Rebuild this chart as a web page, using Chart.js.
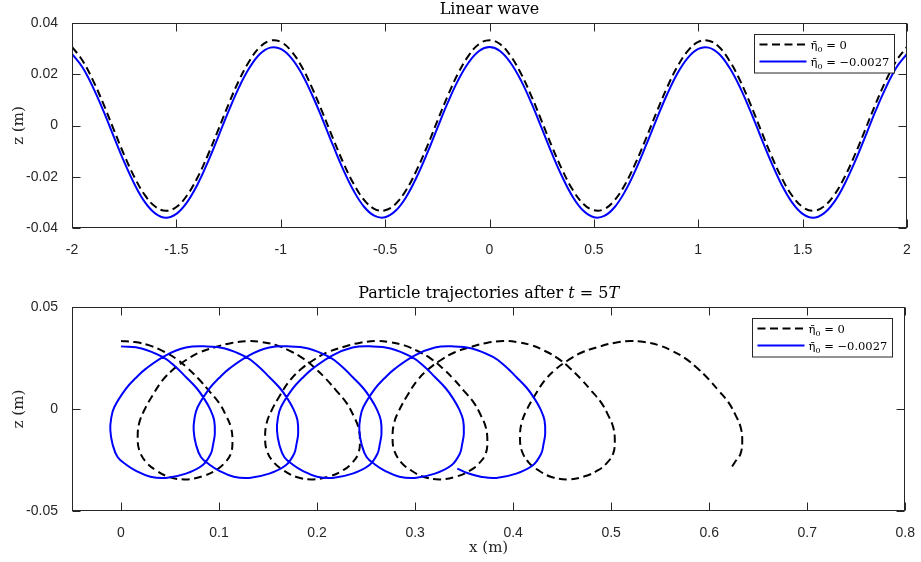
<!DOCTYPE html>
<html><head><meta charset="utf-8">
<script src="https://cdn.jsdelivr.net/npm/chart.js@4.4.1/dist/chart.umd.min.js"></script>
<style>
html,body{margin:0;padding:0;background:#fff;}
#wrap{position:relative;width:921px;height:562px;overflow:hidden;}
canvas{position:absolute;left:0;}
#c1{top:0}
#c2{top:280px}
</style></head><body>
<div id="wrap"><canvas id="c1" width="921" height="280"></canvas><canvas id="c2" width="921" height="282"></canvas></div>
<script>
// ---------- Top panel: Linear wave ----------
const waveX = [-2,-1.95,-1.9,-1.85,-1.8,-1.75,-1.7,-1.65,-1.6,-1.55,-1.5,-1.45,-1.4,-1.35,-1.3,-1.25,-1.2,-1.15,-1.1,-1.05,
  -1,-0.95,-0.9,-0.85,-0.8,-0.75,-0.7,-0.65,-0.6,-0.55,-0.5,-0.45,-0.4,-0.35,-0.3,-0.25,-0.2,-0.15,-0.1,-0.05,
  0,0.05,0.1,0.15,0.2,0.25,0.3,0.35,0.4,0.45,0.5,0.55,0.6,0.65,0.7,0.75,0.8,0.85,0.9,0.95,
  1,1.05,1.1,1.15,1.2,1.25,1.3,1.35,1.4,1.45,1.5,1.55,1.6,1.65,1.7,1.75,1.8,1.85,1.9,1.95,2];
const waveZeroMean = [0.0307,0.0254,0.0177,0.0085,-0.0016,-0.0115,-0.0203,-0.0273,-0.0317,-0.0333,-0.0318,-0.0274,-0.0205,-0.0117,-0.0018,0.0083,0.0176,0.0252,0.0306,0.0331,
  0.0326,0.0291,0.0230,0.0147,0.0051,-0.0050,-0.0146,-0.0229,-0.0291,-0.0326,-0.0331,-0.0306,-0.0253,-0.0176,-0.0084,0.0017,0.0116,0.0204,0.0273,0.0318,
  0.0333,0.0318,0.0273,0.0204,0.0116,0.0017,-0.0084,-0.0176,-0.0253,-0.0306,-0.0331,-0.0326,-0.0291,-0.0229,-0.0146,-0.0050,0.0051,0.0147,0.0230,0.0291,
  0.0326,0.0331,0.0306,0.0252,0.0176,0.0083,-0.0018,-0.0117,-0.0205,-0.0274,-0.0318,-0.0333,-0.0317,-0.0273,-0.0203,-0.0115,-0.0016,0.0085,0.0177,0.0254,0.0307];
const waveShifted = [0.0280,0.0227,0.0150,0.0058,-0.0043,-0.0142,-0.0230,-0.0300,-0.0344,-0.0360,-0.0345,-0.0301,-0.0232,-0.0144,-0.0045,0.0056,0.0149,0.0225,0.0279,0.0304,
  0.0299,0.0264,0.0203,0.0120,0.0024,-0.0077,-0.0173,-0.0256,-0.0318,-0.0353,-0.0358,-0.0333,-0.0280,-0.0203,-0.0111,-0.0010,0.0089,0.0177,0.0246,0.0291,
  0.0306,0.0291,0.0246,0.0177,0.0089,-0.0010,-0.0111,-0.0203,-0.0280,-0.0333,-0.0358,-0.0353,-0.0318,-0.0256,-0.0173,-0.0077,0.0024,0.0120,0.0203,0.0264,
  0.0299,0.0304,0.0279,0.0225,0.0149,0.0056,-0.0045,-0.0144,-0.0232,-0.0301,-0.0345,-0.0360,-0.0344,-0.0300,-0.0230,-0.0142,-0.0043,0.0058,0.0150,0.0227,0.0280];
const waveXTicks = [-2,-1.5,-1,-0.5,0,0.5,1,1.5,2];
const waveXTickLabels = ['-2','-1.5','-1','-0.5','0','0.5','1','1.5','2'];
const waveYTicks = [-0.04,-0.02,0,0.02,0.04];
const waveYTickLabels = ['-0.04','-0.02','0','0.02','0.04'];

// ---------- Bottom panel: particle trajectories ----------
const trajXZeroMean = [
  0,0.014,0.029,0.043,0.056,0.068,0.079,0.090,0.100,0.107,0.112,0.1137,0.112,0.105,0.0967,0.083,0.066,0.049,0.0356,0.0255,0.0186,0.017,0.0185,0.0237,0.0322,0.0424,0.054,0.066,0.080,0.0967,0.113,
  0.130,0.144,0.159,0.173,0.186,0.198,0.209,0.220,0.230,0.237,0.242,0.2437,0.242,0.235,0.2267,0.213,0.196,0.179,0.1656,0.1555,0.1486,0.147,0.1485,0.1537,0.1622,0.1724,0.184,0.196,0.210,0.2267,0.243,
  0.260,0.274,0.289,0.303,0.316,0.328,0.339,0.350,0.360,0.367,0.372,0.3737,0.372,0.365,0.3567,0.343,0.326,0.309,0.2956,0.2855,0.2786,0.277,0.2785,0.2837,0.2922,0.3024,0.314,0.326,0.340,0.3567,0.373,
  0.390,0.404,0.419,0.433,0.446,0.458,0.469,0.480,0.490,0.497,0.502,0.5037,0.502,0.495,0.4867,0.473,0.456,0.439,0.4256,0.4155,0.4086,0.407,0.4085,0.4137,0.4222,0.4324,0.444,0.456,0.470,0.4867,0.503,
  0.520,0.534,0.549,0.563,0.576,0.588,0.599,0.610,0.620,0.627,0.632,0.6337,0.632,0.627,0.623];
const trajZZeroMean = [
  0.0333,0.0328,0.0312,0.0283,0.0247,0.0200,0.0148,0.0088,0.0030,-0.0031,-0.0088,-0.0153,-0.0219,-0.0268,-0.0300,-0.0330,-0.0345,-0.0333,-0.0300,-0.0260,-0.0202,-0.0137,-0.0070,-0.0006,0.0067,0.0141,0.0197,0.0239,0.0277,0.0304,0.0324,
  0.0333,0.0328,0.0312,0.0283,0.0247,0.0200,0.0148,0.0088,0.0030,-0.0031,-0.0088,-0.0153,-0.0219,-0.0268,-0.0300,-0.0330,-0.0345,-0.0333,-0.0300,-0.0260,-0.0202,-0.0137,-0.0070,-0.0006,0.0067,0.0141,0.0197,0.0239,0.0277,0.0304,0.0324,
  0.0333,0.0328,0.0312,0.0283,0.0247,0.0200,0.0148,0.0088,0.0030,-0.0031,-0.0088,-0.0153,-0.0219,-0.0268,-0.0300,-0.0330,-0.0345,-0.0333,-0.0300,-0.0260,-0.0202,-0.0137,-0.0070,-0.0006,0.0067,0.0141,0.0197,0.0239,0.0277,0.0304,0.0324,
  0.0333,0.0328,0.0312,0.0283,0.0247,0.0200,0.0148,0.0088,0.0030,-0.0031,-0.0088,-0.0153,-0.0219,-0.0268,-0.0300,-0.0330,-0.0345,-0.0333,-0.0300,-0.0260,-0.0202,-0.0137,-0.0070,-0.0006,0.0067,0.0141,0.0197,0.0239,0.0277,0.0304,0.0324,
  0.0333,0.0328,0.0312,0.0283,0.0247,0.0200,0.0148,0.0088,0.0030,-0.0031,-0.0088,-0.0153,-0.0219,-0.0255,-0.0284];
const trajXShifted = [
  0,0.021,0.0424,0.055,0.0662,0.077,0.0848,0.091,0.095,0.0957,0.094,0.0916,0.0831,0.0662,0.0458,0.030,0.0153,0.005,-0.0035,-0.0085,-0.0109,-0.0100,-0.0068,0.0051,0.0150,0.0255,0.0458,0.0662,
  0.085,0.106,0.1274,0.140,0.1512,0.162,0.1698,0.176,0.180,0.1807,0.179,0.1766,0.1681,0.1512,0.1308,0.115,0.1003,0.090,0.0815,0.0765,0.0741,0.075,0.0782,0.0901,0.100,0.1105,0.1308,0.1512,
  0.170,0.191,0.2124,0.225,0.2362,0.247,0.2548,0.261,0.265,0.2657,0.264,0.2616,0.2531,0.2362,0.2158,0.200,0.1853,0.175,0.1665,0.1615,0.1591,0.160,0.1632,0.1751,0.185,0.1955,0.2158,0.2362,
  0.254,0.275,0.2964,0.309,0.3202,0.331,0.3388,0.345,0.349,0.3497,0.348,0.3456,0.3371,0.3202,0.2998,0.284,0.2693,0.259,0.2505,0.2455,0.2431,0.244,0.2472,0.2591,0.269,0.2795,0.2998,0.3202,
  0.337,0.358,0.3794,0.392,0.4032,0.414,0.4218,0.428,0.432,0.4327,0.431,0.4286,0.4201,0.4032,0.3828,0.367,0.354,0.343];
const trajZShifted = [
  0.0307,0.0297,0.0255,0.0210,0.0157,0.0103,0.0051,-0.0002,-0.0055,-0.0121,-0.0172,-0.0219,-0.0276,-0.0317,-0.0338,-0.0332,-0.0303,-0.0272,-0.0235,-0.0175,-0.0104,-0.0045,0.0010,0.0100,0.0152,0.0198,0.0263,0.0301,
  0.0307,0.0297,0.0255,0.0210,0.0157,0.0103,0.0051,-0.0002,-0.0055,-0.0121,-0.0172,-0.0219,-0.0276,-0.0317,-0.0338,-0.0332,-0.0303,-0.0272,-0.0235,-0.0175,-0.0104,-0.0045,0.0010,0.0100,0.0152,0.0198,0.0263,0.0301,
  0.0307,0.0297,0.0255,0.0210,0.0157,0.0103,0.0051,-0.0002,-0.0055,-0.0121,-0.0172,-0.0219,-0.0276,-0.0317,-0.0338,-0.0332,-0.0303,-0.0272,-0.0235,-0.0175,-0.0104,-0.0045,0.0010,0.0100,0.0152,0.0198,0.0263,0.0301,
  0.0307,0.0297,0.0255,0.0210,0.0157,0.0103,0.0051,-0.0002,-0.0055,-0.0121,-0.0172,-0.0219,-0.0276,-0.0317,-0.0338,-0.0332,-0.0303,-0.0272,-0.0235,-0.0175,-0.0104,-0.0045,0.0010,0.0100,0.0152,0.0198,0.0263,0.0301,
  0.0307,0.0297,0.0255,0.0210,0.0157,0.0103,0.0051,-0.0002,-0.0055,-0.0121,-0.0172,-0.0219,-0.0276,-0.0317,-0.0338,-0.0332,-0.0315,-0.0292];
const trajXTicks = [0,0.1,0.2,0.3,0.4,0.5,0.6,0.7,0.8];
const trajXTickLabels = ['0','0.1','0.2','0.3','0.4','0.5','0.6','0.7','0.8'];
const trajYTicks = [-0.05,0,0.05];
const trajYTickLabels = ['-0.05','0','0.05'];

const legendValues = ['0', '\u22120.0027'];

const INK = '#262626';
const SERIF = '"DejaVu Serif", serif';

const matlabBox = {
  id: 'matlabBox',
  afterDatasetsDraw(chart, args, opts) {
    const {ctx, chartArea: a, scales} = chart;
    ctx.save();
    ctx.strokeStyle = INK; ctx.lineWidth = 1; ctx.setLineDash([]);
    const L = Math.round(a.left) + 0.5, R = Math.round(a.right) - 0.5;
    const T = Math.round(a.top) + 0.5, B = Math.round(a.bottom) - 0.5;
    ctx.strokeRect(L, T, R - L, B - T);
    const tl = 8;
    ctx.beginPath();
    scales.x.ticks.forEach(t => {
      const px = Math.round(scales.x.getPixelForValue(t.value)) + 0.5;
      ctx.moveTo(px, B); ctx.lineTo(px, B - tl);
      ctx.moveTo(px, T); ctx.lineTo(px, T + tl);
    });
    scales.y.ticks.forEach(t => {
      const py = Math.round(scales.y.getPixelForValue(t.value)) + 0.5;
      ctx.moveTo(L, py); ctx.lineTo(L + tl, py);
      ctx.moveTo(R, py); ctx.lineTo(R - tl, py);
    });
    ctx.stroke();

    // legend box (top right, inside axes)
    const bw = 140, bh = 38.5;
    const bx = Math.round(a.right - 13 - bw) + 0.5, by = Math.round(a.top + 11) + 0.5;
    ctx.fillStyle = '#fff';
    ctx.fillRect(bx, by, bw, bh);
    ctx.strokeStyle = INK; ctx.lineWidth = 1;
    ctx.strokeRect(bx, by, bw, bh);
    const rows = [by + 10, by + 27];
    chart.data.datasets.forEach((ds, i) => {
      const y = rows[i];
      ctx.save();
      ctx.strokeStyle = ds.borderColor; ctx.lineWidth = ds.borderWidth;
      ctx.setLineDash(ds.borderDash || []);
      ctx.beginPath(); ctx.moveTo(bx + 5, y); ctx.lineTo(bx + 52, y); ctx.stroke();
      ctx.restore();
      let x = bx + 56;
      ctx.fillStyle = '#000'; ctx.textBaseline = 'alphabetic'; ctx.textAlign = 'left';
      const base = y + 4.5;
      ctx.font = '11.5px ' + SERIF;
      const eta = '\u03B7\u0304';
      ctx.fillText(eta, x, base); x += ctx.measureText(eta).width;
      ctx.font = '8px ' + SERIF;
      ctx.fillText('0', x, base + 2.5); x += ctx.measureText('0').width;
      ctx.font = '11.5px ' + SERIF;
      ctx.fillText(' = ' + legendValues[i], x, base);
    });
    ctx.restore();
  },
  afterDraw(chart, args, opts) {
    const {ctx, chartArea: a} = chart;
    const pieces = opts.title || [];
    ctx.save();
    ctx.fillStyle = '#000'; ctx.textBaseline = 'alphabetic'; ctx.textAlign = 'left';
    let total = 0;
    pieces.forEach(p => { ctx.font = (p.italic ? 'italic ' : '') + '16px ' + SERIF; total += ctx.measureText(p.text).width; });
    let x = (a.left + a.right) / 2 - total / 2;
    pieces.forEach(p => {
      ctx.font = (p.italic ? 'italic ' : '') + '16px ' + SERIF;
      ctx.fillText(p.text, x, opts.baseline);
      x += ctx.measureText(p.text).width;
    });
    ctx.restore();
  }
};

function axisOpts(min, max, ticks, labels, extra) {
  return Object.assign({
    type: 'linear', min, max,
    grid: {display: false}, border: {display: false},
    afterBuildTicks: s => { s.ticks = ticks.map(v => ({value: v})); },
    ticks: {autoSkip: false, maxRotation: 0, padding: 6, color: INK,
      font: {family: '"Liberation Sans", Arial, sans-serif', size: 14},
      callback: (v, i) => labels[i]}
  }, extra);
}

function lineDs(label, xs, ys, color, dash, order) {
  return {
    label, data: xs.map((x, i) => ({x, y: ys[i]})),
    showLine: true, pointRadius: 0, borderColor: color, backgroundColor: color,
    borderWidth: 2, borderDash: dash, tension: 0.4, fill: false, order,
    borderJoinStyle: 'round', cubicInterpolationMode: 'default'
  };
}

const common = {
  responsive: false, animation: false, devicePixelRatio: 1, events: [],
};

new Chart(document.getElementById('c1'), {
  type: 'line',
  data: {datasets: [
    lineDs('\u03B7\u0304\u2080 = 0', waveX, waveZeroMean, '#000000', [8, 4.5], 1),
    lineDs('\u03B7\u0304\u2080 = \u22120.0027', waveX, waveShifted, '#0000ff', [], 0)
  ]},
  options: Object.assign({}, common, {
    layout: {padding: {top: 23, right: 14, left: 0, bottom: 0}},
    plugins: {legend: {display: false}, tooltip: {enabled: false},
      matlabBox: {title: [{text: 'Linear wave'}], baseline: 13.5}},
    scales: {
      x: axisOpts(-2, 2, waveXTicks, waveXTickLabels, {afterFit: s => { s.height = 52; }}),
      y: axisOpts(-0.04, 0.04, waveYTicks, waveYTickLabels, {
        afterFit: s => { s.width = 72; },
        title: {display: true, text: 'z (m)', color: INK, font: {family: SERIF, size: 15}, padding: {top: 10, bottom: 0}}
      })
    }
  }),
  plugins: [matlabBox]
});

new Chart(document.getElementById('c2'), {
  type: 'line',
  data: {datasets: [
    lineDs('\u03B7\u0304\u2080 = 0', trajXZeroMean, trajZZeroMean, '#000000', [8, 4.5], 1),
    lineDs('\u03B7\u0304\u2080 = \u22120.0027', trajXShifted, trajZShifted, '#0000ff', [], 0)
  ]},
  options: Object.assign({}, common, {
    layout: {padding: {top: 27, right: 14, left: 0, bottom: 0}},
    plugins: {legend: {display: false}, tooltip: {enabled: false},
      matlabBox: {title: [{text: 'Particle trajectories after '}, {text: 't', italic: true}, {text: ' = 5'}, {text: 'T', italic: true}], baseline: 17.5}},
    scales: {
      x: axisOpts(-0.05, 0.8, trajXTicks, trajXTickLabels, {
        afterFit: s => { s.height = 51; },
        title: {display: true, text: 'x (m)', color: INK, font: {family: SERIF, size: 15}, padding: {top: 0, bottom: 5}}
      }),
      y: axisOpts(-0.05, 0.05, trajYTicks, trajYTickLabels, {
        afterFit: s => { s.width = 72; },
        title: {display: true, text: 'z (m)', color: INK, font: {family: SERIF, size: 15}, padding: {top: 10, bottom: 0}}
      })
    }
  }),
  plugins: [matlabBox]
});
</script>
</body></html>
